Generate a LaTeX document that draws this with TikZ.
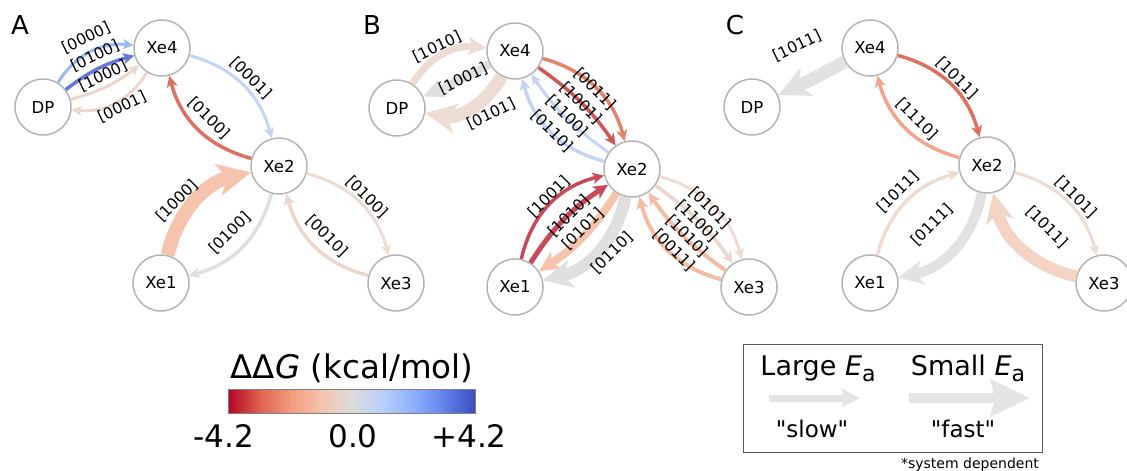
\documentclass[tikz,border=0pt]{standalone}
\usepackage{fontspec}
\setmainfont{DejaVu Sans}
\newfontfamily\qfont{DejaVu Sans}
\usetikzlibrary{arrows.meta}
% colormap colours
\definecolor{cm0}{RGB}{180,4,38}
\definecolor{cm1}{RGB}{222,96,77}
\definecolor{cm2}{RGB}{244,154,123}
\definecolor{cm3}{RGB}{245,196,173}
\definecolor{cm4}{RGB}{221,220,220}
\definecolor{cm5}{RGB}{184,208,249}
\definecolor{cm6}{RGB}{141,176,254}
\definecolor{cm7}{RGB}{98,130,234}
\definecolor{cm8}{RGB}{59,76,192}
% edge colours
\definecolor{lblue}{RGB}{155,185,245}
\definecolor{mblue}{RGB}{100,120,215}
\definecolor{pblue}{RGB}{196,213,243}
\definecolor{beige}{RGB}{234,214,204}
\definecolor{beigeb}{RGB}{237,220,211}
\definecolor{redA}{RGB}{221,112,96}
\definecolor{salm}{RGB}{246,196,172}
\definecolor{salmb}{RGB}{245,188,164}
\definecolor{salmc}{RGB}{240,165,140}
\definecolor{salmd}{RGB}{243,212,197}
\definecolor{greyA}{RGB}{225,222,223}
\definecolor{greyB}{RGB}{227,225,226}
\definecolor{redB}{RGB}{229,130,108}
\definecolor{redC}{RGB}{207,88,86}
\definecolor{crim}{RGB}{200,72,92}
\definecolor{nodeline}{RGB}{180,180,180}
\definecolor{legarrow}{RGB}{228,228,228}
\tikzset{
  st/.style={circle, draw=nodeline, line width=1.5pt, fill=white, minimum size=56pt, inner sep=0pt, font=\fontsize{16.5}{16.5}\selectfont},
  ed/.style={line width=#1, -{Stealth[length=4pt 2.1, width=4pt 2.0, inset=1pt 0.6]}},
  lab/.style={inner sep=0pt, font=\fontsize{15.5}{15.5}\selectfont},
  letter/.style={inner sep=0pt, font=\fontsize{26}{26}\selectfont},
}
\begin{document}
\begin{tikzpicture}[x=1pt,y=-1pt]
\useasboundingbox (0,0) rectangle (1127,471);
% ---------------- Panel A ----------------
\node[letter] (lA) at (20,25) {A};
\node[st] (aDP) at (43,107) {DP};
\node[st] (aX4) at (162,48) {Xe4};
\node[st] (aX2) at (279,166) {Xe2};
\node[st] (aX1) at (161,283) {Xe1};
\node[st] (aX3) at (396,283) {Xe3};
\draw[ed=3, lblue] (aDP) to[bend left=32] (aX4);
\draw[ed=3.5, mblue] (aDP) to[bend left=11] (aX4);
\draw[ed=3, beige] (aDP) to[bend right=11] (aX4);
\draw[ed=3, beige] (aX4) to[bend left=32] (aDP);
\draw[ed=3, pblue] (aX4) to[bend left=30] (aX2);
\draw[ed=3.5, redA] (aX2) to[bend left=30] (aX4);
\draw[ed=14, salm] (aX1) to[bend left=32] (aX2);
\draw[ed=3.5, greyA] (aX2) to[bend left=30] (aX1);
\draw[ed=3, beigeb] (aX2) to[bend left=30] (aX3);
\draw[ed=3.5, beige] (aX3) to[bend left=30] (aX2);
\node[lab, rotate=26] (la1) at (86,38) {[0000]};
\node[lab, rotate=26] (la2) at (95,56) {[0100]};
\node[lab, rotate=26] (la3) at (103,76) {[1000]};
\node[lab, rotate=26] (la4) at (122,107) {[0001]};
\node[lab, rotate=-45] (la5) at (251,78) {[0001]};
\node[lab, rotate=-45] (la6) at (209,118) {[0100]};
\node[lab, rotate=45] (la7) at (177,201) {[1000]};
\node[lab, rotate=45] (la8) at (230,233) {[0100]};
\node[lab, rotate=-45] (la9) at (367,197) {[0100]};
\node[lab, rotate=-45] (la10) at (327,236) {[0010]};
% ---------------- Panel B ----------------
\node[letter] (lB) at (372,25) {B};
\node[st] (bDP) at (397,108) {DP};
\node[st] (bX4) at (515,51) {Xe4};
\node[st] (bX2) at (632,169) {Xe2};
\node[st] (bX1) at (515,287) {Xe1};
\node[st] (bX3) at (749,287) {Xe3};
\draw[ed=7, beigeb] (bDP) to[bend left=32] (bX4);
\draw[ed=8, greyA] (bX4) to[bend left=2] (bDP);
\draw[ed=13, beigeb] (bX4) to[bend left=36] (bDP);
\draw[ed=3.5, redB] (bX4) to[bend left=30] (bX2);
\draw[ed=3.5, redC] (bX4) to[bend left=10] (bX2);
\draw[ed=3, pblue] (bX2) to[bend left=10] (bX4);
\draw[ed=3.5, pblue] (bX2) to[bend left=30] (bX4);
\draw[ed=3.5, crim] (bX1) to[bend left=32] (bX2);
\draw[ed=5, crim] (bX1) to[bend left=12] (bX2);
\draw[ed=8, salm] (bX2) to[bend left=12] (bX1);
\draw[ed=12, greyA] (bX2) to[bend left=32] (bX1);
\draw[ed=3, beigeb] (bX2) to[bend left=30] (bX3);
\draw[ed=3.5, beige] (bX2) to[bend left=10] (bX3);
\draw[ed=4, salmb] (bX3) to[bend left=10] (bX2);
\draw[ed=4, salmb] (bX3) to[bend left=30] (bX2);
\node[lab, rotate=26] (lb1) at (437,47) {[1010]};
\node[lab, rotate=26] (lb2) at (463,79) {[1001]};
\node[lab, rotate=26] (lb3) at (491,114) {[0101]};
\node[lab, rotate=-45] (lb4) at (595,89) {[0011]};
\node[lab, rotate=-45] (lb5) at (581,103) {[1001]};
\node[lab, rotate=-45] (lb6) at (567,116) {[1100]};
\node[lab, rotate=-45] (lb7) at (552,131) {[0110]};
\node[lab, rotate=45] (lb8) at (549,197) {[1001]};
\node[lab, rotate=45] (lb9) at (569,216) {[1010]};
\node[lab, rotate=45] (lb10) at (583,229) {[0101]};
\node[lab, rotate=45] (lb11) at (612,253) {[0110]};
\node[lab, rotate=-45] (lb12) at (710,208) {[0101]};
\node[lab, rotate=-45] (lb13) at (697,221) {[1100]};
\node[lab, rotate=-45] (lb14) at (687,236) {[1010]};
\node[lab, rotate=-45] (lb15) at (674,250) {[0011]};
% ---------------- Panel C ----------------
\node[letter] (lC) at (735,25) {C};
\node[st] (cDP) at (752,107) {DP};
\node[st] (cX4) at (870,48) {Xe4};
\node[st] (cX2) at (987,165) {Xe2};
\node[st] (cX1) at (870,283) {Xe1};
\node[st] (cX3) at (1104,283) {Xe3};
\draw[ed=13, greyB] (cX4) to[bend left=2] (cDP);
\draw[ed=3.5, redA] (cX4) to[bend left=30] (cX2);
\draw[ed=3.5, salmc] (cX2) to[bend left=30] (cX4);
\draw[ed=3.5, beigeb] (cX1) to[bend left=30] (cX2);
\draw[ed=10, greyB] (cX2) to[bend left=34] (cX1);
\draw[ed=3, beigeb] (cX2) to[bend left=30] (cX3);
\draw[ed=12, salmd] (cX3) to[bend left=32] (cX2);
\node[lab, rotate=26] (lc1) at (797,46) {[1011]};
\node[lab, rotate=-45] (lc2) at (957,78) {[1011]};
\node[lab, rotate=-45] (lc3) at (917,119) {[1110]};
\node[lab, rotate=45] (lc4) at (898,192) {[1011]};
\node[lab, rotate=45] (lc5) at (932,225) {[0111]};
\node[lab, rotate=-45] (lc6) at (1076,197) {[1101]};
\node[lab, rotate=-45] (lc7) at (1047,227) {[1011]};
% ---------------- Colour bar ----------------
\node[anchor=base, inner sep=0pt, font=\fontsize{32.5}{32.5}\selectfont] (cbt) at (352,378) {ΔΔ\textit{G} (kcal/mol)};
\foreach \i/\ca/\cb in {0/cm0/cm1,1/cm1/cm2,2/cm2/cm3,3/cm3/cm4,4/cm4/cm5,5/cm5/cm6,6/cm6/cm7,7/cm7/cm8}{
  \shade[left color=\ca, right color=\cb] (228+\i*30.875,389) rectangle (228.4+\i*30.875+30.875,413);
}
\draw[line width=0.7pt, gray] (228,389) rectangle (475,413);
\node[anchor=base, inner sep=0pt, font=\fontsize{31}{31}\selectfont] (t1) at (224,447) {-4.2};
\node[anchor=base, inner sep=0pt, font=\fontsize{31}{31}\selectfont] (t2) at (353,447) {0.0};
\node[anchor=base, inner sep=0pt, font=\fontsize{31}{31}\selectfont] (t3) at (469,447) {+4.2};
% ---------------- Legend ----------------
\draw[line width=0.8pt, draw={rgb,255:red,90;green,90;blue,90}] (743,344) rectangle (1042,452);
\node[anchor=base, inner sep=0pt, font=\fontsize{27}{27}\selectfont] (lg1) at (818,375) {Large \textit{E}\raisebox{-6pt}{\fontsize{22}{22}\selectfont a}};
\node[anchor=base, inner sep=0pt, font=\fontsize{27}{27}\selectfont] (lg2) at (968,375) {Small \textit{E}\raisebox{-6pt}{\fontsize{22}{22}\selectfont a}};
\coordinate (s1) at (769,398);
\coordinate (s2) at (860,398);
\coordinate (f1) at (909,398);
\coordinate (f2) at (1030,398);
\draw[line width=7pt, legarrow, -{Stealth[length=18pt, width=18pt, inset=2pt]}] (s1) -- (s2);
\draw[line width=10pt, legarrow, -{Stealth[length=39pt, width=36pt, inset=4pt]}] (f1) -- (f2);
\node[anchor=base, inner sep=0pt, font=\qfont\fontsize{23}{23}\selectfont] (lg3) at (812,437) {"slow"};
\node[anchor=base, inner sep=0pt, font=\qfont\fontsize{23}{23}\selectfont] (lg4) at (963,437) {"fast"};
\node[anchor=base, inner sep=0pt, font=\fontsize{14}{14}\selectfont] (lg5) at (970,468) {*system dependent};
\end{tikzpicture}
\end{document}
